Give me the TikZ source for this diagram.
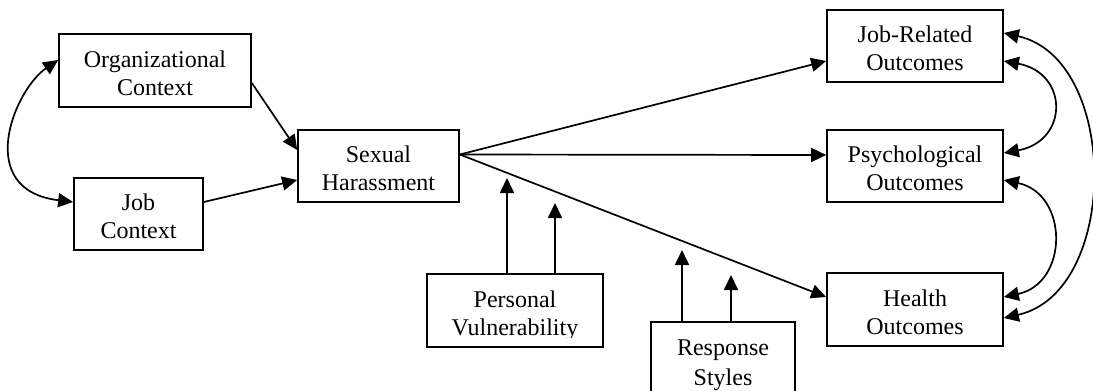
\documentclass[tikz,border=0pt]{standalone}
\usepackage{fontspec}
\setmainfont{Liberation Serif}
\usetikzlibrary{arrows.meta}
% two centred lines, lowered inside their box without changing its size
\newcommand\btext[2][5pt]{\raisebox{-#1}[\height][\depth]{\begin{tabular}{@{}c@{}}#2\end{tabular}}}
\begin{document}
\begin{tikzpicture}[x=1pt,y=-1pt,
  >={Triangle[length=15pt,width=14pt]},
  boxtxt/.style={inner sep=0pt,font=\fontsize{24}{28}\selectfont},
  box/.style={boxtxt,draw,line width=1.7pt},
  boxline/.style={line width=1.7pt},
  arr/.style={->,line width=1.7pt},
  biarr/.style={<->,line width=1.7pt}]
\useasboundingbox (0,0) rectangle (1093,391);
\clip (0,0) rectangle (1093,391);
% boxes
\node[box,minimum width=192pt,minimum height=73pt] (org) at (155,70.5) {\btext{Organizational\\Context}};
\node[box,minimum width=129pt,minimum height=72pt] (job) at (138.5,214) {\btext{Job\\Context}};
\node[box,minimum width=161pt,minimum height=72pt] (sh) at (378.5,166) {\btext{Sexual\\Harassment}};
\begin{scope}
  \clip (427,274) rectangle (603,337);
  \node[boxtxt,minimum width=176pt,minimum height=73pt] (pv) at (515,310.5) {\btext{Personal\\Vulnerability}};
\end{scope}
\draw[boxline] (pv.south west) rectangle (pv.north east);
\node[box,minimum width=144pt,minimum height=72pt] (rs) at (723,358) {\btext[7pt]{Response\\[2pt]Styles}};
\node[box,minimum width=176pt,minimum height=72pt] (jr) at (915,46) {\btext{Job-Related\\Outcomes}};
\node[box,minimum width=176pt,minimum height=72pt] (ps) at (915,166) {\btext{Psychological\\Outcomes}};
\node[box,minimum width=176pt,minimum height=73pt] (he) at (915,309.5) {\btext{Health\\Outcomes}};
% free ends of the moderator arrows
\coordinate (pvA) at (507,178);
\coordinate (pvB) at (555,203);
\coordinate (rsA) at (682,250);
\coordinate (rsB) at (731,275);
% antecedents
\draw[arr] ([yshift=-12.5pt]org.east) -- ([yshift=16pt]sh.west);
\draw[arr] ([yshift=12pt]job.east) -- ([yshift=-14pt]sh.west);
\draw[biarr] ([yshift=10.5pt]org.west) .. controls +(-44,30) and +(-100,-12) .. ([yshift=12pt]job.west);
% outcomes
\draw[arr] ([yshift=11.5pt]sh.east) -- ([yshift=-15pt]jr.west);
\draw[arr] ([yshift=11.5pt]sh.east) -- ([yshift=11pt]ps.west);
\draw[arr] ([yshift=11.5pt]sh.east) -- ([yshift=12.5pt]he.west);
% moderators
\draw[arr] (pvA |- pv.north) -- (pvA);
\draw[arr] (pvB |- pv.north) -- (pvB);
\draw[arr] (rsA |- rs.north) -- (rsA);
\draw[arr] (rsB |- rs.north) -- (rsB);
% outcome correlations
\draw[biarr] ([yshift=-15pt]jr.east) .. controls +(65,12) and +(65,-12) .. ([yshift=13pt]ps.east);
\draw[biarr] ([yshift=-14pt]ps.east) .. controls +(65,14) and +(65,-14) .. ([yshift=12.5pt]he.east);
\draw[biarr] ([yshift=13pt]jr.east) .. controls +(116,26) and +(116,-26) .. ([yshift=-8.5pt]he.east);
\end{tikzpicture}
\end{document}
